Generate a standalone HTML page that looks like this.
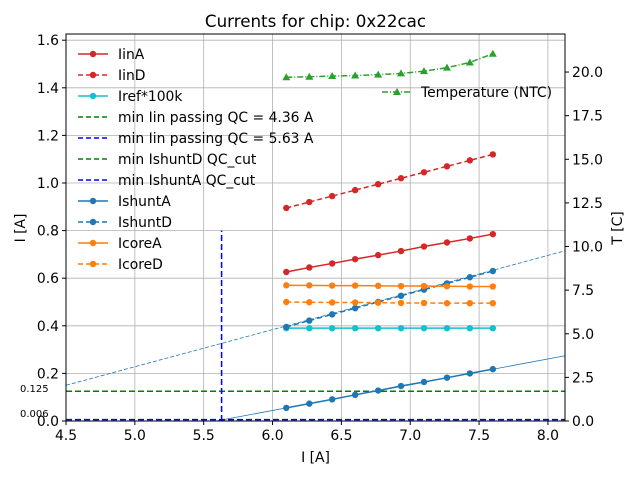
<!DOCTYPE html>
<html><head><meta charset="utf-8"><style>
body{margin:0;background:#fff;font-family:"Liberation Sans","DejaVu Sans",sans-serif}
svg text{font-family:"DejaVu Sans","Liberation Sans",sans-serif}
</style></head><body>
<svg id="chart" width="640" height="480" viewBox="0 0 640 480" xmlns="http://www.w3.org/2000/svg">
<text x="315.5" y="27" font-size="16.7" text-anchor="middle">Currents for chip: 0x22cac</text>
<g id="grid"></g>
<g id="marks"></g>
<rect x="66" y="34" width="499" height="387" fill="none" stroke="#000" stroke-width="1"/>
<g id="axes"></g>
<text x="315.5" y="462" font-size="13.9" text-anchor="middle">I [A]</text>
<text transform="translate(25,228) rotate(-90)" font-size="13.9" text-anchor="middle">I [A]</text>
<text transform="translate(622,228) rotate(-90)" font-size="13.9" text-anchor="middle">T [C]</text>
<text x="20" y="392" font-size="10">0.125</text>
<text x="20" y="417" font-size="10">0.006</text>
<g id="legend"></g>
</svg>
<script>
const xs = [6.1,6.267,6.433,6.6,6.767,6.933,7.1,7.267,7.433,7.6];
const iinA = [0.626,0.645,0.662,0.68,0.697,0.714,0.733,0.75,0.767,0.785];
const iinD = [0.895,0.92,0.945,0.97,0.995,1.02,1.045,1.07,1.095,1.12];
const iref = [0.39,0.39,0.39,0.39,0.39,0.39,0.39,0.39,0.39,0.39];
const ishuntA = [0.055,0.073,0.091,0.11,0.128,0.147,0.164,0.182,0.2,0.218];
const ishuntD = [0.395,0.422,0.448,0.474,0.5,0.526,0.552,0.578,0.604,0.63];
const icoreA = [0.57,0.57,0.569,0.569,0.568,0.567,0.567,0.566,0.565,0.565];
const icoreD = [0.5,0.499,0.498,0.498,0.497,0.496,0.496,0.495,0.495,0.495];
const temp = [19.7,19.73,19.77,19.8,19.85,19.92,20.05,20.25,20.55,21.05];
const xTicks = [4.5,5.0,5.5,6.0,6.5,7.0,7.5,8.0];
const yTicks = [0,0.2,0.4,0.6,0.8,1.0,1.2,1.4,1.6];
const y2Ticks = [0,2.5,5,7.5,10,12.5,15,17.5,20];
const fitA = [[5.59,0],[8.124,0.274]];
const fitD = [[4.5,0.15],[8.124,0.715]];
const cutD = 0.125, cutA = 0.006, vLineX = 5.63, vLineTop = 0.8;

const X0=66,X1=565,Y0=421,Y1=34, xmin=4.5,xmax=8.124, ymax=1.626, y2max=22.18;
const sx=v=>X0+(v-xmin)/(xmax-xmin)*(X1-X0);
const sy=v=>Y0-v/ymax*(Y0-Y1);
const sy2=v=>Y0-v/y2max*(Y0-Y1);
const NS="http://www.w3.org/2000/svg";
function mk(parent,tag,attrs){const e=document.createElementNS(NS,tag);for(const k in attrs)e.setAttribute(k,attrs[k]);parent.appendChild(e);return e;}
const grid=document.getElementById('grid'),marks=document.getElementById('marks'),axes=document.getElementById('axes'),legend=document.getElementById('legend');
xTicks.forEach(t=>{const x=sx(t);
 const g=mk(grid,'line',{x1:x,x2:x,y1:Y1,y2:Y0,stroke:'#b0b0b0','stroke-width':0.8});
 
 
 const tk=mk(axes,'line',{x1:x,x2:x,y1:Y0,y2:Y0+4,stroke:'#000'});
 
 
 const tx=mk(axes,'text',{x:x,y:Y0+19,'font-size':13.9,'text-anchor':'middle'});tx.textContent=t.toFixed(1);
 
 
});
yTicks.forEach(t=>{const y=sy(t);
 const g=mk(grid,'line',{x1:X0,x2:X1,y1:y,y2:y,stroke:'#b0b0b0','stroke-width':0.8});
 
 
 const tk=mk(axes,'line',{x1:X0-4,x2:X0,y1:y,y2:y,stroke:'#000'});
 
 
 const tx=mk(axes,'text',{x:X0-7,y:y+5,'font-size':13.9,'text-anchor':'end'});tx.textContent=t.toFixed(1);
 
 
});
y2Ticks.forEach(t=>{const y=sy2(t);
 const tk=mk(axes,'line',{x1:X1,x2:X1+4,y1:y,y2:y,stroke:'#000'});
 
 
 const tx=mk(axes,'text',{x:X1+7,y:y+5,'font-size':13.9});tx.textContent=t.toFixed(1);
 
 
});
function line(pts,color,dash,w,name){const p=mk(marks,'polyline',{points:pts.map(q=>q.join(',')).join(' '),fill:'none',stroke:color,'stroke-width':w,'stroke-dasharray':dash||'none'});
 
 }
line(fitA.map(p=>[sx(p[0]),sy(p[1])]),'#1f77b4','',0.8,'ishuntA-fit');
line(fitD.map(p=>[sx(p[0]),sy(p[1])]),'#1f77b4','4,2',0.8,'ishuntD-fit');
line([[X0,sy(cutD)],[X1,sy(cutD)]],'#008000','6,3',1.5,'ishuntD-cut-line');
line([[X0,sy(cutA)],[X1,sy(cutA)]],'#0000ff','6,3',1.5,'ishuntA-cut-line');
line([[sx(vLineX),sy(0)],[sx(vLineX),sy(vLineTop)]],'#0000ff','6,3',1.5,'min-iin-vline');
function series(vals,color,dash,name,scale,marker){
 const pts=xs.map((x,i)=>[sx(x),scale(vals[i])]);
 line(pts,color,dash,1.5,name+'-line');
 pts.forEach(p=>{let m;
  if(marker==='tri') m=mk(marks,'polygon',{points:`${p[0]},${p[1]-4} ${p[0]-4},${p[1]+3} ${p[0]+4},${p[1]+3}`,fill:color});
  else m=mk(marks,'circle',{cx:p[0],cy:p[1],r:3.2,fill:color});
  
  });
}
series(iinA,'#d62728','','iinA',sy);
series(iinD,'#d62728','5,3','iinD',sy);
series(iref,'#17becf','','iref',sy);
series(ishuntA,'#1f77b4','','ishuntA',sy);
series(ishuntD,'#1f77b4','5,3','ishuntD',sy);
series(icoreA,'#ff7f0e','','icoreA',sy);
series(icoreD,'#ff7f0e','5,3','icoreD',sy);
series(temp,'#2ca02c','6,2,1,2','temperature',sy2,'tri');
const legItems=[['IinA','#d62728','',1],['IinD','#d62728','5,3',1],['Iref*100k','#17becf','',1],['min Iin passing QC = 4.36 A','#008000','5,3',0],['min Iin passing QC = 5.63 A','#0000ff','5,3',0],['min IshuntD QC_cut','#008000','5,3',0],['min IshuntA QC_cut','#0000ff','5,3',0],['IshuntA','#1f77b4','',1],['IshuntD','#1f77b4','5,3',1],['IcoreA','#ff7f0e','',1],['IcoreD','#ff7f0e','5,3',1]];
legItems.forEach((it,i)=>{const y=54+i*21;
 const l=mk(legend,'line',{x1:78,x2:108,y1:y,y2:y,stroke:it[1],'stroke-width':1.5,'stroke-dasharray':it[2]||'none'});
 
 
 if(it[3]){const c=mk(legend,'circle',{cx:93,cy:y,r:3.2,fill:it[1]});
  
  }
 const t=mk(legend,'text',{x:118,y:y+5,'font-size':13.9});t.textContent=it[0];
 
 
});
const tl=mk(legend,'line',{x1:382,x2:412,y1:92,y2:92,stroke:'#2ca02c','stroke-width':1.5,'stroke-dasharray':'6,2,1,2'});


const tm=mk(legend,'polygon',{points:'397,88 393,95 401,95',fill:'#2ca02c'});


const tt=mk(legend,'text',{x:421,y:97,'font-size':13.9});tt.textContent='Temperature (NTC)';


</script>
</body></html>
